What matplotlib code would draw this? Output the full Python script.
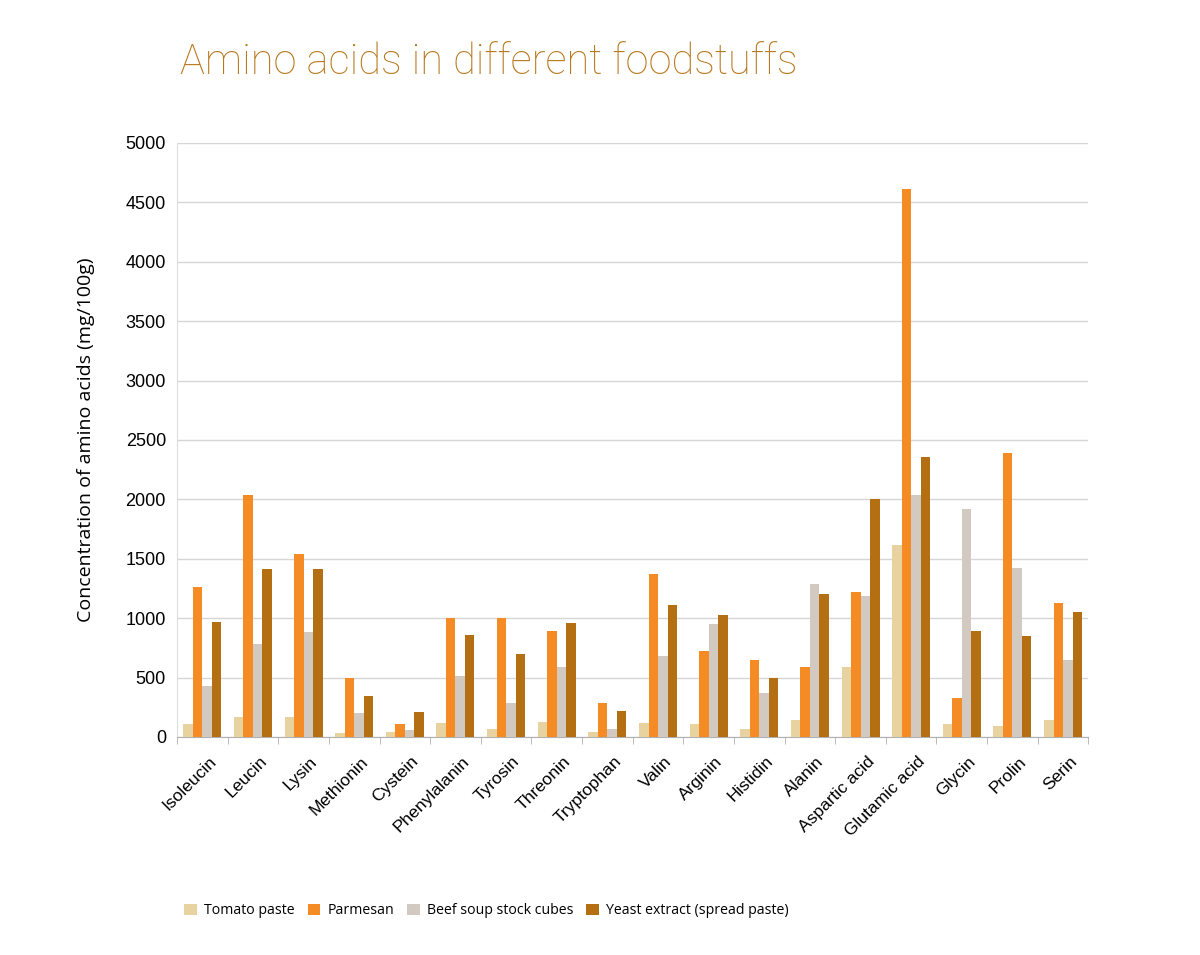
import matplotlib.pyplot as plt
import numpy as np

# 아미노산 종류
amino = ['Isoleucin', 'Leucin', 'Lysin', 'Methionin', 'Cystein', 'Phenylalanin',
         'Tyrosin', 'Threonin', 'Tryptophan', 'Valin', 'Arginin', 'Histidin',
         'Alanin', 'Aspartic acid', 'Glutamic acid', 'Glycin', 'Prolin', 'Serin']

# 식품별 농도 (mg/100g)
tomato = [110, 170, 170, 30, 45, 115, 65, 130, 40, 115, 110, 65, 145, 590, 1620, 110, 90, 140]
parmesan = [1260, 2040, 1540, 500, 110, 1000, 1000, 890, 285, 1370, 720, 650, 590, 1220, 4610, 330, 2390, 1130]
beef = [430, 780, 880, 200, 55, 510, 290, 590, 65, 680, 950, 370, 1290, 1190, 2040, 1920, 1420, 650]
yeast = [970, 1410, 1410, 345, 210, 860, 700, 960, 220, 1110, 1030, 500, 1200, 2000, 2360, 890, 850, 1050]

series = [('Tomato paste', tomato, '#E8D3A0'),
          ('Parmesan', parmesan, '#F58B24'),
          ('Beef soup stock cubes', beef, '#D2CAC1'),
          ('Yeast extract (spread paste)', yeast, '#B46F13')]

fig = plt.figure(figsize=(12, 9.55), dpi=100)
ax = fig.add_axes([0.1475, 0.2283, 0.7595, 0.622])

x = np.arange(len(amino))
w = 0.1875
for i, (name, vals, col) in enumerate(series):
    ax.bar(x + (i - 1.5) * w, vals, width=w, color=col, label=name, zorder=3)

ax.set_xlim(-0.5, len(amino) - 0.5)
ax.set_ylim(0, 5000)
ax.set_yticks(range(0, 5001, 500))
ax.grid(axis='y', color='#D6D6D6', linewidth=1, zorder=0)

ax.set_xticks(x + 0.12)
ax.set_xticklabels(amino, rotation=45, ha='right', rotation_mode='anchor',
                   fontsize=12.5, family='Liberation Sans')
ax.set_xticks(np.arange(-0.5, len(amino)), minor=True)
ax.tick_params(axis='x', which='major', length=0, pad=12)
ax.tick_params(axis='x', which='minor', length=5, color='#B0B0B0', direction='out')
ax.tick_params(axis='y', length=0, pad=8, labelsize=13)
for lbl in ax.get_yticklabels():
    lbl.set_family('Liberation Sans')

for s in ['top', 'right']:
    ax.spines[s].set_visible(False)
ax.spines['left'].set_color('#DDDDDD')
ax.spines['bottom'].set_color('#B0B0B0')

ax.set_ylabel('Concentration of amino acids (mg/100g)', fontsize=14,
              family='Open Sans', labelpad=22)

fig.text(0.15, 0.935, 'Amino acids in different foodstuffs', fontsize=30,
         color='#B8791E', family='Roboto', fontweight='light', va='center')

fig.legend(loc='lower left', bbox_to_anchor=(0.143, 0.025), ncol=4, frameon=False,
           prop={'family': 'Open Sans', 'size': 10.2}, handlelength=0.9,
           handleheight=0.9, handletextpad=0.5, columnspacing=0.9)

fig.savefig('out.png', dpi=100)
